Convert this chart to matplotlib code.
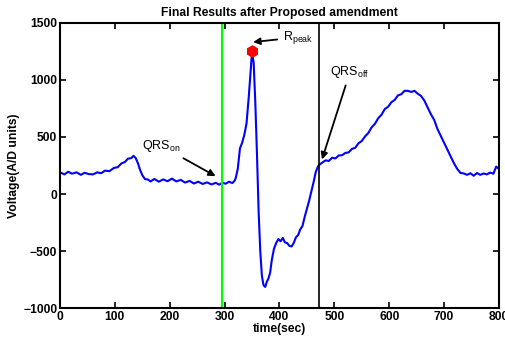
import matplotlib
matplotlib.use("Agg")
import matplotlib.pyplot as plt

plt.rcParams.update({
    "font.family": ["Liberation Sans", "DejaVu Sans"],
    "mathtext.fontset": "custom",
    "mathtext.rm": "Liberation Sans",
    "font.size": 8.7,
})

# ECG samples (time, A/D value)
t = [0, 8, 15, 22, 30, 38, 45, 52, 60, 68, 75, 82, 90, 98, 105, 112, 118, 124, 130, 134,
     138, 142, 146, 150, 155, 160, 165, 172, 180, 188, 196, 204, 212, 220, 228, 236, 244,
     252, 260, 268, 276, 284, 290, 296, 302, 308, 314, 318, 320, 324, 328, 332, 336, 340,
     344, 347, 350, 353, 356, 359, 362, 365, 368, 371, 374, 377, 380, 383, 386, 390, 394,
     398, 402, 406, 410, 414, 418, 422, 426, 430, 434, 438, 442, 446, 450, 454, 458, 462,
     466, 470, 474, 478, 484, 490, 496, 502, 508, 514, 520, 526, 532, 538, 544, 550, 556,
     562, 568, 574, 580, 586, 592, 598, 604, 610, 616, 622, 628, 634, 640, 646, 652, 658,
     664, 670, 676, 682, 688, 694, 700, 706, 712, 718, 724, 730, 736, 742, 748, 754, 760,
     766, 772, 778, 784, 790, 795, 800]
v = [190, 172, 195, 178, 190, 168, 186, 175, 172, 190, 182, 205, 200, 228, 235, 268, 280, 310, 315, 335,
     315, 270, 210, 165, 130, 128, 110, 132, 108, 128, 112, 135, 110, 124, 100, 115, 92,
     108, 88, 102, 84, 98, 82, 98, 90, 108, 96, 115, 135, 220, 400, 450, 520, 620,
     850, 1050, 1245, 1150, 800, 350, -150, -500, -720, -800, -815, -770, -740, -690, -580, -480, -430,
     -395, -415, -385, -425, -430, -455, -460, -430, -380, -360, -310, -280, -200, -130, -60, 20, 100,
     190, 240, 262, 275, 295, 290, 318, 312, 338, 340, 360, 365, 395, 405, 445, 465, 505,
     535, 585, 615, 665, 695, 745, 765, 805, 825, 865, 875, 905, 905, 895, 905, 880, 860,
     820, 760, 700, 650, 570, 510, 450, 390, 330, 270, 220, 185, 180, 168, 182, 160, 184,
     168, 180, 172, 188, 178, 240, 220]

qrs_on = 295
qrs_off = 472
r_peak = (350, 1255)

fig = plt.figure(figsize=(5.06, 3.43), dpi=100)
ax = fig.add_axes([0.1186, 0.102, 0.8674, 0.831])
ax.plot(t, v, color="#0000ff", lw=1.5)
ax.axvline(qrs_on, color="#00ff00", lw=1.5)
ax.axvline(qrs_off, color="black", lw=1.2)
ax.plot(*r_peak, marker="h", color="red", ms=8)

arrow = dict(arrowstyle="-|>", color="black", lw=1.3, mutation_scale=10)
ax.annotate(r"R$_{\mathregular{peak}}$", xy=(347, 1330), xytext=(406, 1300), arrowprops=arrow,
            fontsize=9, va="bottom")
ax.annotate(r"QRS$_{\mathregular{off}}$", xy=(476, 280), xytext=(493, 1000), arrowprops=arrow,
            fontsize=9, va="bottom")
ax.annotate(r"QRS$_{\mathregular{on}}$", xy=(288, 145), xytext=(150, 350), arrowprops=arrow,
            fontsize=9, va="bottom")

ax.set_xlim(0, 800)
ax.set_ylim(-1000, 1500)
ax.set_xticks(range(0, 801, 100))
ax.set_yticks(range(-1000, 1501, 500))
ax.tick_params(direction="in", top=True, right=True, length=4, width=1.2, pad=2)
for lab in ax.get_xticklabels() + ax.get_yticklabels():
    lab.set_fontweight("bold")
for s in ax.spines.values():
    s.set_linewidth(1.5)
ax.set_xlabel("time(sec)", fontweight="bold", labelpad=0)
ax.set_ylabel("Voltage(A/D units)", fontweight="bold", labelpad=2)
ax.set_title("Final Results after Proposed amendment", fontweight="bold", fontsize=8.7, pad=5)

fig.savefig("out.png", dpi=100)
